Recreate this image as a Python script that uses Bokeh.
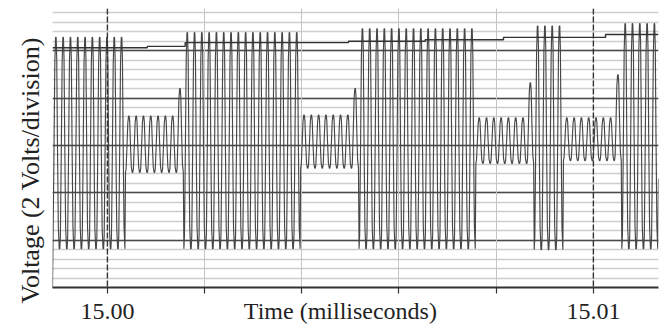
from bokeh.plotting import figure
from bokeh.models import (Range1d, Span, FixedTicker, SingleIntervalTicker, Grid,
                          LinearAxis, Title)
from bokeh.embed import file_html
from bokeh.resources import INLINE

# ---------------- data ----------------
# time axis in milliseconds, voltage in divisions (2 V per division)
x_view_ms = [14.99887, 15.01134]
y_view_div = [0.0, 5.89]

trace_start_ms = 14.99887
carrier_period_ms = 0.0001502          # one carrier cycle
trace_first_level = 0.0
trace_last_level = 2.3

# segments of the carrier: number of cycles, peak level, trough level,
# and the peak level of the last cycle of each segment
seg_cycles = [10, 8, 16, 8, 16, 8, 4, 8, 5]
seg_peak = [5.28, 3.62, 5.38, 3.64, 5.46, 3.58, 5.52, 3.58, 5.57]
seg_trough = [0.82, 2.43, 0.82, 2.52, 0.82, 2.62, 0.80, 2.68, 0.82]
seg_last_peak = [5.28, 4.20, 5.38, 4.20, 5.46, 4.32, 5.52, 4.49, 5.57]

# slowly rising staircase trace near the top
step_time_ms = [14.99887, 15.00082, 15.00160, 15.00496, 15.00654, 15.00815, 15.01025, 15.01134]
step_level_div = [5.06, 5.09, 5.17, 5.20, 5.23, 5.28, 5.34, 5.34]

x_ticks_ms = [15.000, 15.002, 15.004, 15.006, 15.008, 15.010]
x_tick_labels = ["15.00", "", "", "", "", "15.01"]
dashed_ticks_ms = [15.000, 15.010]
light_ticks_ms = [15.002, 15.004, 15.006, 15.008]

x_title = "Time (milliseconds)"
x_title_at_ms = 15.004794
y_title = "Voltage (2 Volts/division)"

# ---------------- build the trace from the segment table ----------------
# drawing shape of one cycle: (fraction of period, fraction of trough->peak swing)
SHAPE_T = [0.0, 0.08, 0.2, 0.32, 0.42, 0.5, 0.58, 0.68, 0.8, 0.92]
SHAPE_V = [0.0, 0.06, 0.45, 0.88, 1.0, 1.0, 0.9, 0.5, 0.1, 0.0]
xs = [trace_start_ms]
ys = [trace_first_level]
t = trace_start_ms
for n, pk, tr, lp in zip(seg_cycles, seg_peak, seg_trough, seg_last_peak):
    for c in range(n):
        top = lp if c == n - 1 else pk
        for k, (ft, fv) in enumerate(zip(SHAPE_T, SHAPE_V)):
            if k == 0 and len(xs) == 1:
                continue
            xs.append(t + ft * carrier_period_ms)
            ys.append(tr + fv * (top - tr))
        t += carrier_period_ms
xs.append(x_view_ms[1])
ys.append(trace_last_level)

# ---------------- figure ----------------
FONT = "Liberation Serif"
p = figure(width=665, height=326, output_backend="svg", toolbar_location=None,
           x_range=Range1d(*x_view_ms), y_range=Range1d(*y_view_div),
           x_axis_location=None, y_axis_location=None,
           min_border_left=52, min_border_right=7, min_border_top=8, min_border_bottom=34)
p.outline_line_color = None
p.background_fill_color = "white"
p.border_fill_color = "white"

# horizontal grid: dark every division, light every 1/5 division
p.add_layout(Grid(dimension=1, ticker=SingleIntervalTicker(interval=1, num_minor_ticks=5),
                  grid_line_color="#4a4a4a", grid_line_width=1.5,
                  minor_grid_line_color="#cdcdcd", minor_grid_line_width=1.3))
# vertical grid
p.add_layout(Grid(dimension=0, ticker=FixedTicker(ticks=light_ticks_ms),
                  grid_line_color="#c4c4c4", grid_line_width=1))
for loc in dashed_ticks_ms:
    p.add_layout(Span(location=loc, dimension="height", line_color="#333333",
                      line_width=1.4, line_dash="6 2"))

# traces
p.line(xs, ys, line_color="#474747", line_width=1.15)
p.step(step_time_ms, step_level_div, mode="after", line_color="#333333", line_width=1.4)

# x axis: line + tick marks
ax_ticks = LinearAxis(ticker=FixedTicker(ticks=x_ticks_ms),
                      major_label_overrides={k: "" for k in x_ticks_ms},
                      major_label_text_font_size="1px", major_label_standoff=0,
                      axis_line_color="#333333", axis_line_width=2,
                      major_tick_line_color="#333333", major_tick_line_width=1.2,
                      major_tick_out=6, major_tick_in=0, minor_tick_line_color=None)
p.add_layout(ax_ticks, "below")

# x axis labels row: tick labels and the axis title on one line
lab_ticks = [x_ticks_ms[0], x_title_at_ms, x_ticks_ms[-1]]
lab_text = [x_tick_labels[0], x_title, x_tick_labels[-1]]
ax_labels = LinearAxis(ticker=FixedTicker(ticks=lab_ticks),
                       major_label_overrides={k: v for k, v in zip(lab_ticks, lab_text)},
                       axis_line_color=None, major_tick_line_color=None,
                       major_tick_out=0, major_tick_in=0, minor_tick_line_color=None,
                       major_label_text_font=FONT, major_label_text_font_size="24px",
                       major_label_text_color="#222222", major_label_standoff=4)
p.add_layout(ax_labels, "below")

# y axis title
p.add_layout(Title(text=y_title, align="left", offset=-16, vertical_align="middle", standoff=14,
                   text_font=FONT, text_font_size="26px", text_font_style="normal",
                   text_color="#222222"), "left")

open("out.html", "w").write(file_html(p, INLINE))
